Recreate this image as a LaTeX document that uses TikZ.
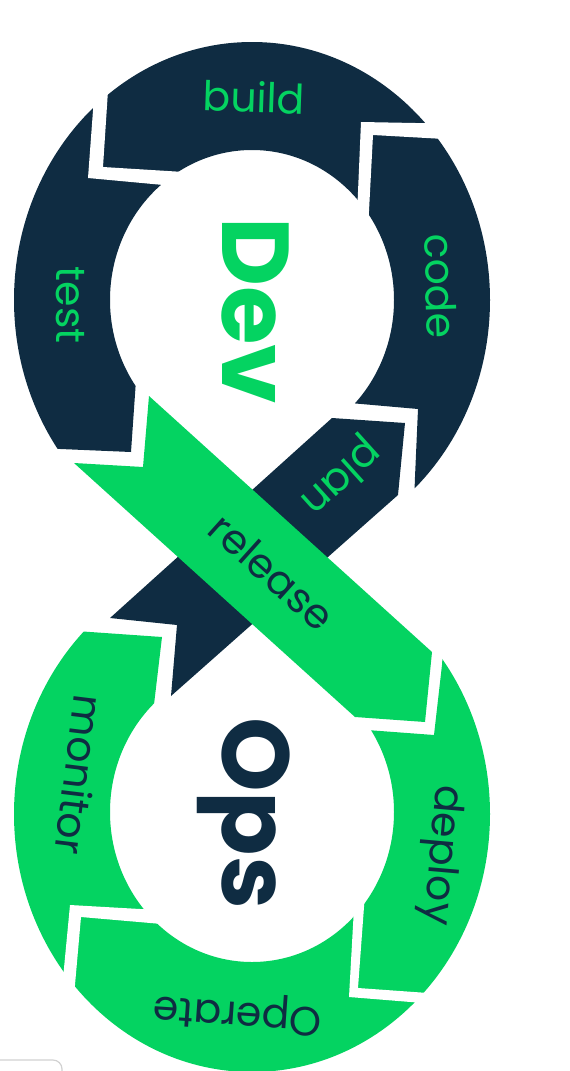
\documentclass[tikz,border=0pt]{standalone}
\usepackage{fontspec}
\setmainfont{Poppins}
\usepackage{tikz}
\definecolor{devnavy}{HTML}{0F2C42}
\definecolor{opsgreen}{HTML}{04D361}
\tikzset{
  devband/.style={fill=devnavy},
  opsband/.style={fill=opsgreen},
  gapcut/.style={fill=white},
  devlabel/.style={text=opsgreen,font=\fontsize{41}{41}\selectfont,inner sep=0pt},
  opslabel/.style={text=devnavy,font=\fontsize{41}{41}\selectfont,inner sep=0pt},
  looptitle/.style={font=\fontsize{95}{95}\selectfont\bfseries,inner sep=0pt,
                    anchor=base west,rotate=-90}
}

\begin{document}
\begin{tikzpicture}[x=1pt,y=-1pt]
  \useasboundingbox (0,0) rectangle (570,1071);
  % Dev loop
  \begin{scope}
    \clip (-10,446) -- (131,452) -- (136,380) -- (252,300) -- (350,403) -- (418,409)
          -- (415,477) -- (413,530) -- (600,530) -- (600,-10) -- (-10,-10) -- cycle;
    \fill[devband,even odd rule] (252,300) ellipse [x radius=238,y radius=258]
                                 (252,300) ellipse [x radius=142,y radius=150];
  \end{scope}
  \fill[gapcut] (110,60) -- (103,167) -- (200,173) -- (185,187) -- (88,178) -- (96,70) -- cycle;
  \fill[gapcut] (470,124) -- (361,122) -- (357,215) -- (368,230) -- (373,135) -- (480,141) -- cycle;
  % Ops loop
  \begin{scope}
    \clip (-10,625) -- (162,637) -- (153,713) -- (252,812) -- (367,730) -- (434,735)
          -- (442,665) -- (445,620) -- (600,620) -- (600,1100) -- (-10,1100) -- cycle;
    \fill[opsband,even odd rule] (252,814) ellipse [x radius=238,y radius=258]
                                 (252,812) ellipse [x radius=142,y radius=150];
  \end{scope}
  \fill[gapcut] (366,880) -- (358,988) -- (470,996) -- (460,1006) -- (349,997) -- (355,890) -- cycle;
  \fill[gapcut] (175,911) -- (70,905) -- (60,1010) -- (71,1030) -- (81,917) -- (185,926) -- cycle;
  % crossing: plan under release
  \fill[devband] (110,618) -- (177,625) -- (171,696) -- (398,495) -- (405,423) -- (332,418) -- cycle;
  \fill[opsband] (74,463) -- (143,467) -- (149,396) -- (432,652) -- (425,722) -- (355,717) -- cycle;

  \node[devlabel,rotate=-2] (build) at (254,97) {build};
  \node[devlabel,rotate=-88] (code) at (441,286) {code};
  \node[devlabel,rotate=-90] (test) at (70,305) {test};
  \node[devlabel,rotate=222] (plan) at (340,476) {plan};
  \node[opslabel,rotate=-42] (release) at (272,572) {release};
  \node[opslabel,rotate=-95] (deploy) at (440,855) {deploy};
  \node[opslabel,rotate=176] (operate) at (238,1012) {Operate};
  \node[opslabel,rotate=-97] (monitor) at (80,775) {monitor};
  \node[looptitle,text=opsgreen] (dev) at (222,217) {Dev};
  \node[looptitle,text=devnavy] (ops) at (222,717) {Ops};

  \draw[black!18,line width=1.2,rounded corners=9] (-10,1060) -- (62,1060) -- (62,1085);
\end{tikzpicture}
\end{document}
